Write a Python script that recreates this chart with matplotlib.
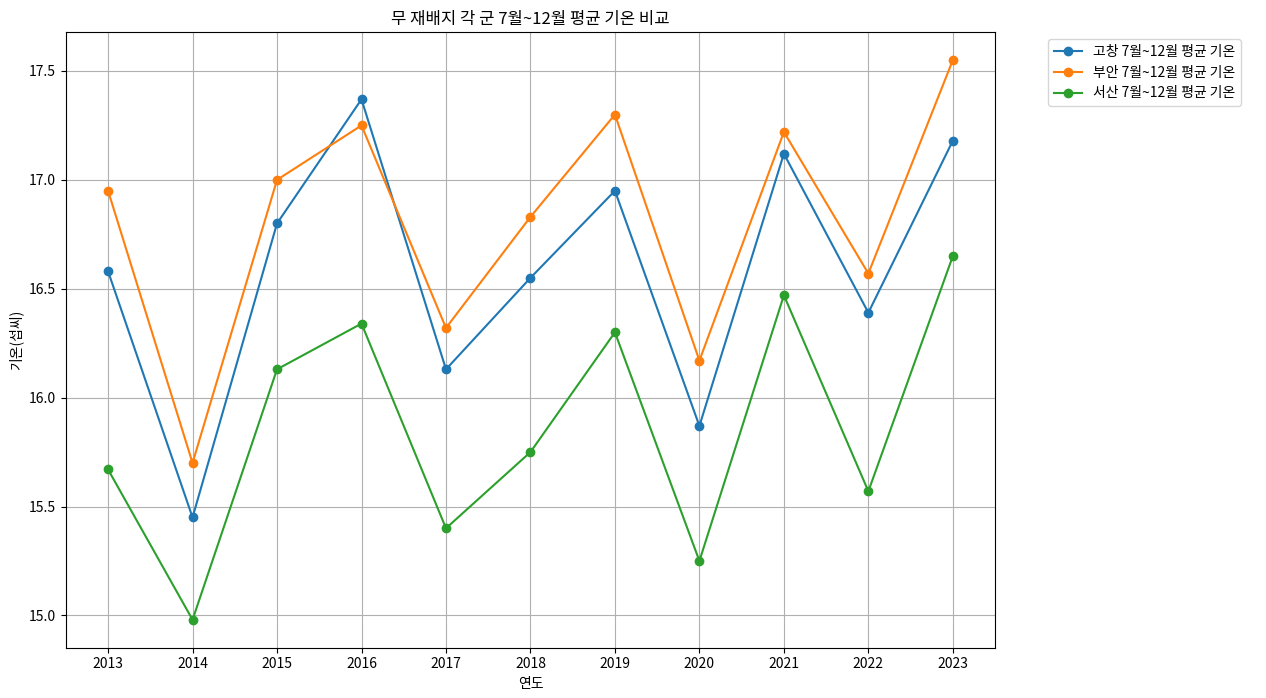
import matplotlib
matplotlib.use('Agg')
import matplotlib.pyplot as plt

plt.rcParams['font.family'] = ['Noto Sans CJK KR', 'DejaVu Sans']
plt.rcParams['axes.unicode_minus'] = False

years = [2013, 2014, 2015, 2016, 2017, 2018, 2019, 2020, 2021, 2022, 2023]
gochang = [16.58, 15.45, 16.80, 17.37, 16.13, 16.55, 16.95, 15.87, 17.12, 16.39, 17.18]
buan = [16.95, 15.70, 17.00, 17.25, 16.32, 16.83, 17.30, 16.17, 17.22, 16.57, 17.55]
seosan = [15.67, 14.98, 16.13, 16.34, 15.40, 15.75, 16.30, 15.25, 16.47, 15.57, 16.65]

fig = plt.figure(figsize=(12.66, 6.98), dpi=100)
ax = fig.add_axes([0.052, 0.072, 0.734, 0.882])

ax.plot(years, gochang, marker='o', label='고창 7월~12월 평균 기온')
ax.plot(years, buan, marker='o', label='부안 7월~12월 평균 기온')
ax.plot(years, seosan, marker='o', label='서산 7월~12월 평균 기온')

ax.set_title('무 재배지 각 군 7월~12월 평균 기온 비교', fontsize=12)
ax.set_xlabel('연도')
ax.set_ylabel('기온(섭씨)')
ax.set_xticks(years)
ax.grid(True)
ax.legend(bbox_to_anchor=(1.05, 1), loc='upper left')

fig.savefig('out.png', dpi=100)
